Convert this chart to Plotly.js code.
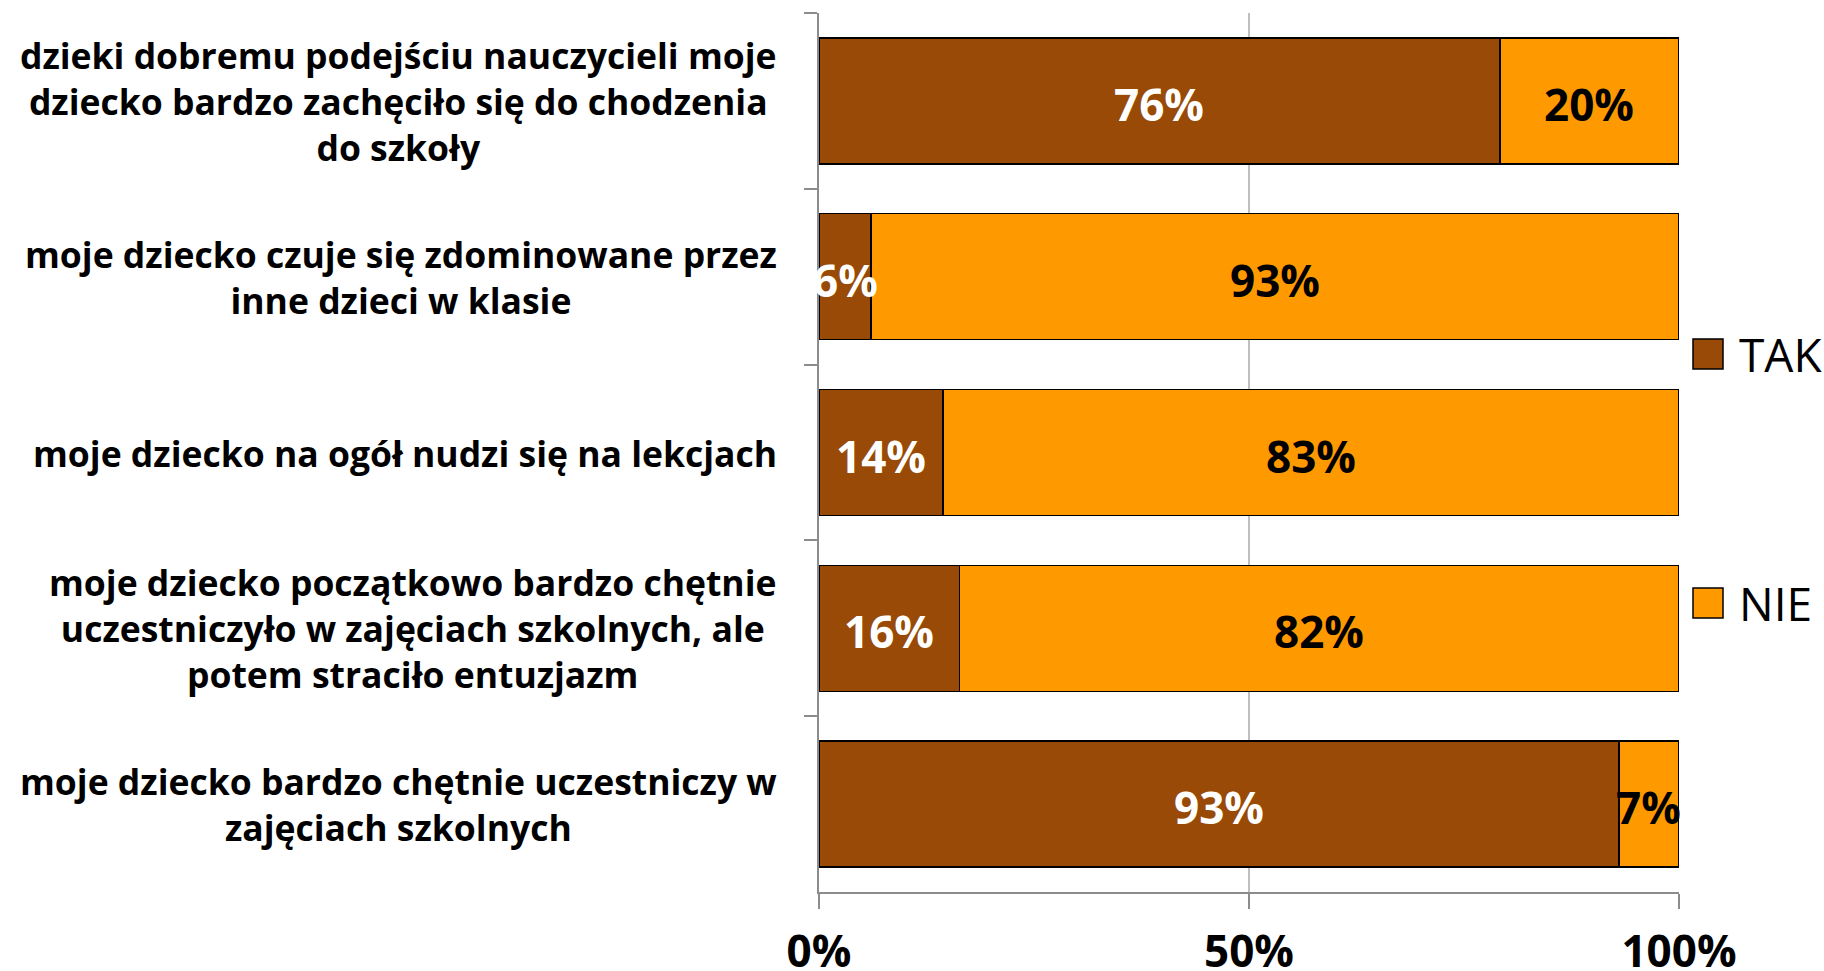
<!DOCTYPE html>
<html>
<head>
<meta charset="utf-8">
<script src="https://cdn.plot.ly/plotly-3.0.1.min.js"></script>
<style>
html,body{margin:0;padding:0;background:#fff;}
#chart{width:1824px;height:971px;}
</style>
</head>
<body>
<div id="chart"></div>
<script>
var categories = [
  "dzieki dobremu podejściu nauczycieli moje<br>dziecko bardzo zachęciło się do chodzenia<br>do szkoły",
  "moje dziecko czuje się zdominowane przez<br>inne dzieci w klasie",
  "moje dziecko na ogół nudzi się na lekcjach",
  "moje dziecko początkowo bardzo chętnie<br>uczestniczyło w zajęciach szkolnych, ale<br>potem straciło entuzjazm",
  "moje dziecko bardzo chętnie uczestniczy w<br>zajęciach szkolnych"
];
var seriesNames = ["TAK", "NIE"];
var takValues = [76, 6, 14, 16, 93];
var nieValues = [20, 93, 83, 82, 7];
var xTickVals = [0, 50, 100];
var xTickText = ["0%", "50%", "100%"];

var colors = ["#994A06", "#FF9900"];
var textColors = ["#FFFFFF", "#000000"];
var FONT = "'Open Sans', 'DejaVu Sans', sans-serif";

var seriesValues = [takValues, nieValues];

// stacked bars (normalised to 100% by the library)
var traces = seriesValues.map(function (vals, i) {
  return {
    type: "bar",
    orientation: "h",
    name: seriesNames[i],
    y: categories,
    x: vals,
    marker: {color: colors[i], line: {color: "#000000", width: 1.5}},
    showlegend: false,
    hoverinfo: "skip"
  };
});

var annotations = [];

// value labels centred in each segment (positions derived from the data)
var totals = takValues.map(function (v, k) { return v + nieValues[k]; });
seriesValues.forEach(function (vals, i) {
  vals.forEach(function (v, k) {
    var before = 0;
    for (var s = 0; s < i; s++) before += seriesValues[s][k];
    annotations.push({
      xref: "x", yref: "y",
      x: (before + v / 2) / totals[k] * 100,
      y: categories[k],
      xanchor: "center", yanchor: "middle", yshift: -3,
      text: v + "%",
      showarrow: false,
      font: {family: FONT, size: 44, color: textColors[i], weight: 700}
    });
  });
});

categories.forEach(function (c) {
  annotations.push({
    xref: "paper", yref: "y",
    x: 0, y: c, xshift: -40,
    xanchor: "right", yanchor: "middle",
    align: "center",
    text: c,
    showarrow: false,
    font: {family: FONT, size: 35.5, color: "#000000", weight: 700}
  });
});

// custom legend (large swatches like the original)
var plotW = 860, plotH = 879;
var legendY = [354, 603];
var shapes = [];
seriesNames.forEach(function (n, i) {
  var cy = (892 - legendY[i]) / plotH;
  var x0 = 1 + 14 / plotW, x1 = 1 + 44 / plotW;
  var h = 15 / plotH;
  shapes.push({
    type: "rect", xref: "paper", yref: "paper",
    x0: x0, x1: x1, y0: cy - h, y1: cy + h,
    fillcolor: colors[i], line: {color: "#000000", width: 1.5}
  });
  annotations.push({
    xref: "paper", yref: "paper",
    x: 1 + 58 / plotW, y: cy,
    xanchor: "left", yanchor: "middle",
    text: n, showarrow: false,
    font: {family: FONT, size: 46, color: "#000000"}
  });
});

var layout = {
  width: 1824, height: 971,
  margin: {l: 819, r: 145, t: 13, b: 79},
  paper_bgcolor: "#ffffff", plot_bgcolor: "#ffffff",
  barmode: "stack",
  barnorm: "percent",
  bargap: 0.283,
  showlegend: false,
  xaxis: {
    range: [0, 100],
    tickvals: xTickVals, ticktext: xTickText,
    showgrid: true, gridcolor: "#BFBFBF", gridwidth: 1.5,
    zeroline: false,
    showline: true, linecolor: "#8C8C8C", linewidth: 2,
    ticks: "outside", ticklen: 15, tickwidth: 2, tickcolor: "#8C8C8C",
    tickfont: {family: FONT, size: 44, color: "#000000", weight: 700},
    ticklabelstandoff: 5,
    fixedrange: true
  },
  yaxis: {
    type: "category",
    autorange: "reversed",
    showticklabels: false,
    tickson: "boundaries",
    ticks: "outside", ticklen: 13, tickwidth: 2, tickcolor: "#8C8C8C",
    showgrid: false, zeroline: false,
    showline: true, linecolor: "#8C8C8C", linewidth: 2,
    fixedrange: true
  },
  annotations: annotations,
  shapes: shapes
};

Plotly.newPlot("chart", traces, layout, {displayModeBar: false, staticPlot: true});
</script>
</body>
</html>
